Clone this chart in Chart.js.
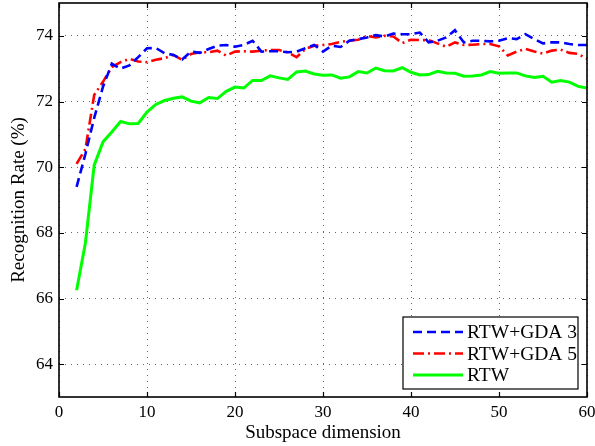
<!DOCTYPE html>
<html>
<head>
<meta charset="utf-8">
<script src="https://cdn.jsdelivr.net/npm/chart.js@4/dist/chart.umd.min.js"></script>
<style>
html,body{margin:0;padding:0;background:#fff;}
#wrap{width:595px;height:446px;position:relative;}
</style>
</head>
<body>
<div id="wrap"><canvas id="c" width="595" height="446"></canvas></div>
<script>
const dims = [2,3,4,5,6,7,8,9,10,11,12,13,14,15,16,17,18,19,20,21,22,23,24,25,26,27,28,29,30,31,32,33,34,35,36,37,38,39,40,41,42,43,44,45,46,47,48,49,50,51,52,53,54,55,56,57,58,59,60];
const gda3 = [69.4,70.4,71.5,72.45,73.15,73.0,73.1,73.35,73.62,73.63,73.47,73.42,73.28,73.52,73.48,73.6,73.7,73.72,73.67,73.72,73.85,73.52,73.53,73.53,73.5,73.52,73.62,73.72,73.52,73.7,73.66,73.85,73.9,73.95,74.02,73.98,74.07,74.05,74.05,74.1,73.8,73.85,73.95,74.17,73.8,73.85,73.85,73.83,73.85,73.93,73.9,74.05,73.9,73.77,73.8,73.8,73.75,73.72,73.72];
const gda5 = [70.1,70.55,72.2,72.6,73.05,73.2,73.3,73.22,73.2,73.27,73.32,73.42,73.27,73.45,73.5,73.5,73.55,73.4,73.52,73.53,73.52,73.55,73.57,73.57,73.5,73.35,73.6,73.7,73.72,73.75,73.82,73.85,73.88,74.0,73.95,74.0,73.98,73.78,73.88,73.87,73.87,73.77,73.67,73.8,73.72,73.73,73.75,73.75,73.68,73.4,73.52,73.6,73.52,73.46,73.55,73.58,73.48,73.45,73.3];
const rtw = [66.25,67.69,70.06,70.77,71.07,71.39,71.32,71.33,71.68,71.91,72.03,72.1,72.14,72.01,71.96,72.12,72.09,72.31,72.44,72.41,72.64,72.64,72.78,72.72,72.67,72.9,72.93,72.84,72.8,72.81,72.71,72.75,72.91,72.87,73.02,72.94,72.93,73.03,72.89,72.81,72.82,72.92,72.87,72.86,72.77,72.78,72.81,72.91,72.86,72.87,72.87,72.78,72.73,72.77,72.59,72.64,72.59,72.46,72.41];
const seriesNames = ['RTW+GDA 3','RTW+GDA 5','RTW'];
const xTicks = [0,10,20,30,40,50,60];
const yTicks = [64,66,68,70,72,74];
const xTitle = 'Subspace dimension';
const yTitle = 'Recognition Rate (%)';

const FONT = '"Liberation Serif", "Times New Roman", serif';

function pts(ys){ return dims.map((d,i)=>({x:d,y:ys[i]})); }

const frame = {
  id:'frame',
  afterDraw(chart){
    const ctx = chart.ctx, a = chart.chartArea;
    const xs = chart.scales.x, ys = chart.scales.y;
    ctx.save();
    ctx.strokeStyle = '#000';
    ctx.lineWidth = 1.2;
    ctx.setLineDash([]);
    const tl = 5;
    ctx.beginPath();
    xTicks.forEach(v=>{
      const p = Math.round(xs.getPixelForValue(v))+0.5;
      ctx.moveTo(p,a.bottom); ctx.lineTo(p,a.bottom-tl);
      ctx.moveTo(p,a.top); ctx.lineTo(p,a.top+tl);
    });
    yTicks.forEach(v=>{
      const p = Math.round(ys.getPixelForValue(v))+0.5;
      ctx.moveTo(a.left,p); ctx.lineTo(a.left+tl,p);
      ctx.moveTo(a.right,p); ctx.lineTo(a.right-tl,p);
    });
    ctx.stroke();
    ctx.lineWidth = 1.6;
    ctx.strokeRect(a.left, a.top, a.right-a.left, a.bottom-a.top);
    // legend box
    const bw = 175, bh = 72;
    const bx = a.right - 9 - bw, by = a.bottom - 8 - bh;
    ctx.fillStyle = '#fff';
    ctx.fillRect(bx,by,bw,bh);
    ctx.lineWidth = 1.2;
    ctx.strokeRect(bx,by,bw,bh);
    ctx.font = '19.5px ' + FONT;
    ctx.textBaseline = 'middle';
    chart.data.datasets.forEach((ds,i)=>{
      const y = by + 15 + i*21.5;
      ctx.strokeStyle = ds.borderColor;
      ctx.lineWidth = ds.borderWidth;
      ctx.setLineDash(ds.borderDash || []);
      ctx.beginPath();
      ctx.moveTo(bx+10,y); ctx.lineTo(bx+60,y);
      ctx.stroke();
      ctx.setLineDash([]);
      ctx.fillStyle = '#000';
      ctx.fillText(ds.label, bx+64, y+1);
    });
    ctx.restore();
  }
};

new Chart(document.getElementById('c'), {
  type:'line',
  data:{
    datasets:[
      {label:seriesNames[0], data:pts(gda3), borderColor:'#0000ff', borderWidth:2.6, borderDash:[9,5], pointRadius:0, fill:false, tension:0},
      {label:seriesNames[1], data:pts(gda5), borderColor:'#ff0000', borderWidth:2.6, borderDash:[11,4,2,4], pointRadius:0, fill:false, tension:0},
      {label:seriesNames[2], data:pts(rtw), borderColor:'#00ff00', borderWidth:3, pointRadius:0, fill:false, tension:0}
    ]
  },
  options:{
    responsive:false,
    animation:false,
    devicePixelRatio:1,
    layout:{padding:{left:0,right:8,top:3,bottom:0}},
    plugins:{legend:{display:false}, tooltip:{enabled:false}},
    scales:{
      x:{
        type:'linear', min:0, max:60,
        afterBuildTicks(s){ s.ticks = xTicks.map(v=>({value:v})); },
        afterFit(s){ s.height = 49; s.paddingLeft = 0; s.paddingRight = 0; },
        grid:{color:'rgba(0,0,0,0.6)', lineWidth:1, drawTicks:false},
        border:{display:false, dash:[1,5]},
        ticks:{color:'#000', font:{family:FONT, size:17}, padding:5, maxRotation:0},
        title:{display:true, text:xTitle, color:'#000', font:{family:FONT, size:19}, padding:{top:0,bottom:2}}
      },
      y:{
        type:'linear', min:63, max:75,
        afterBuildTicks(s){ s.ticks = yTicks.map(v=>({value:v})); },
        afterFit(s){ s.width = 59; s.paddingTop = 0; s.paddingBottom = 0; },
        grid:{color:'rgba(0,0,0,0.6)', lineWidth:1, drawTicks:false},
        border:{display:false, dash:[1,5]},
        ticks:{color:'#000', font:{family:FONT, size:17}, padding:6},
        title:{display:true, text:yTitle, color:'#000', font:{family:FONT, size:19}, padding:{top:8,bottom:0}}
      }
    }
  },
  plugins:[frame]
});
</script>
</body>
</html>
